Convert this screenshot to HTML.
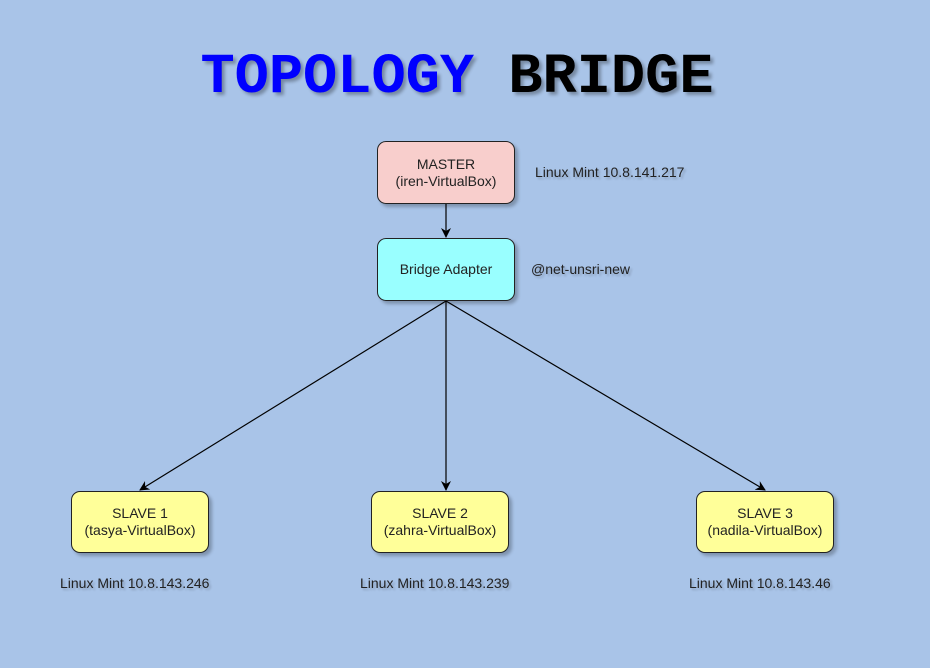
<!DOCTYPE html>
<html><head><meta charset="utf-8"><style>
body{margin:0;width:930px;height:668px;background:#a9c4e8;position:relative;overflow:hidden;font-family:"Liberation Sans",sans-serif;}
.t{position:absolute;left:-8px;width:930px;top:46px;text-align:center;font-family:"Liberation Mono",monospace;font-weight:bold;font-size:57px;line-height:64px;text-shadow:3px 3px 3px rgba(0,0,0,0.3);}
.b{position:absolute;box-sizing:border-box;border:1px solid #222;border-radius:9px;display:flex;align-items:center;justify-content:center;text-align:center;font-size:14px;line-height:17px;color:#222;box-shadow:3px 3px 3px rgba(0,0,0,0.25);}
.l{position:absolute;font-size:14px;color:#222;text-shadow:2px 2px 2px rgba(0,0,0,0.2);white-space:nowrap;}
</style></head><body>
<div class="t"><span style="color:#0000ff">TOPOLOGY</span> <span style="color:#000">BRIDGE</span></div>
<svg width="930" height="668" style="position:absolute;left:0;top:0">
<defs><marker id="a" markerWidth="10" markerHeight="10" refX="9" refY="5" orient="auto" markerUnits="userSpaceOnUse"><path d="M0,0 L10,5 L0,10 L3,5 z" fill="#000"/></marker></defs>
<g stroke="#000" stroke-width="1.2" fill="none">
<line x1="446" y1="203" x2="446" y2="237" marker-end="url(#a)"/>
<line x1="446" y1="301" x2="140" y2="490" marker-end="url(#a)"/>
<line x1="446" y1="301" x2="446" y2="490" marker-end="url(#a)"/>
<line x1="446" y1="301" x2="765" y2="490" marker-end="url(#a)"/>
</g></svg>
<div class="b" style="left:377px;top:141px;width:138px;height:63px;background:#f8cecc">MASTER<br>(iren-VirtualBox)</div>
<div class="b" style="left:377px;top:238px;width:138px;height:63px;background:#99ffff">Bridge Adapter</div>
<div class="b" style="left:71px;top:491px;width:138px;height:62px;background:#ffff99">SLAVE 1<br>(tasya-VirtualBox)</div>
<div class="b" style="left:371px;top:491px;width:138px;height:62px;background:#ffff99">SLAVE 2<br>(zahra-VirtualBox)</div>
<div class="b" style="left:696px;top:491px;width:138px;height:62px;background:#ffff99">SLAVE 3<br>(nadila-VirtualBox)</div>
<div class="l" style="left:535px;top:164px">Linux Mint 10.8.141.217</div>
<div class="l" style="left:531px;top:261px">@net-unsri-new</div>
<div class="l" style="left:60px;top:575px">Linux Mint 10.8.143.246</div>
<div class="l" style="left:360px;top:575px">Linux Mint 10.8.143.239</div>
<div class="l" style="left:689px;top:575px">Linux Mint 10.8.143.46</div>
</body></html>
